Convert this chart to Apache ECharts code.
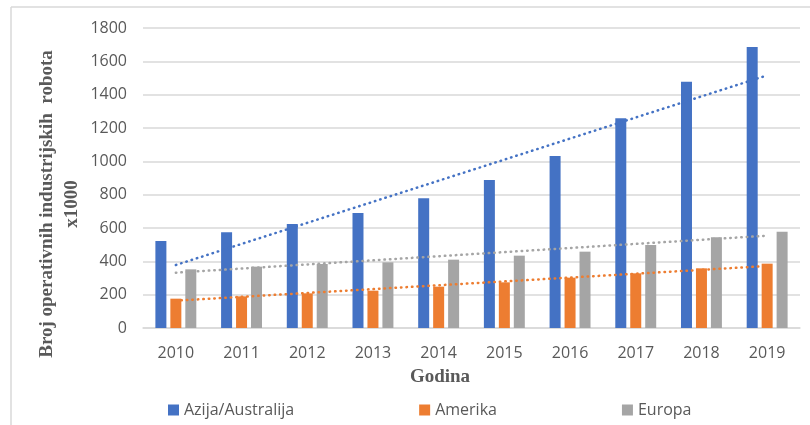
<!DOCTYPE html>
<html lang="hr">
<head>
    <meta charset="UTF-8">
    <title>Broj operativnih industrijskih robota</title>
    <style>
        html, body { margin: 0; padding: 0; background: #fff; }
        #chart { width: 810px; height: 425px; }
    </style>
    <script src="https://cdn.jsdelivr.net/npm/echarts@6/dist/echarts.min.js"></script>
</head>
<body>
    <div id="chart"></div>
    <script>
        // podaci (x1000)
        var godine = ['2010', '2011', '2012', '2013', '2014', '2015', '2016', '2017', '2018', '2019'];
        var azija = [522, 574, 624, 690, 778, 888, 1032, 1258, 1478, 1686];
        var amerika = [176, 190, 208, 224, 248, 274, 302, 328, 358, 386];
        var europa = [352, 368, 384, 394, 410, 434, 458, 498, 544, 578];

        // linije trenda, očitane krajnje točke (2010, 2019)
        var trendAzija = [378, 1516];
        var trendAmerika = [164, 372];
        var trendEuropa = [332, 554];

        var yTicks = [0, 200, 400, 600, 800, 1000, 1200, 1400, 1600, 1800];

        function trend(ends) {
            var d = godine.map(function () { return null; });
            d[0] = ends[0];
            d[d.length - 1] = ends[1];
            return d;
        }

        var boje = ['#4472C4', '#ED7D31', '#A5A5A5'];
        var labelFont = { color: '#595959', fontSize: 16, fontFamily: 'Open Sans' };

        var chart = echarts.init(document.getElementById('chart'));

        function barSeries(name, data, color) {
            return {
                name: name, type: 'bar', data: data,
                barWidth: 11, barGap: '36%',
                itemStyle: { color: color }
            };
        }

        function trendSeries(name, ends, color) {
            return {
                name: name, type: 'line', data: trend(ends),
                connectNulls: true, symbol: 'none', silent: true,
                lineStyle: { color: color, width: 2.5, type: [0.5, 5], cap: 'round' },
                z: 5
            };
        }

        chart.setOption({
            animation: false,
            grid: { left: 143, right: 10, top: 28, bottom: 97 },
            legend: {
                data: ['Azija/Australija', 'Amerika', 'Europa'],
                left: 163, top: 397,
                icon: 'rect', itemWidth: 11, itemHeight: 11, itemGap: 125,
                textStyle: labelFont
            },
            xAxis: {
                type: 'category',
                data: godine,
                axisLine: { lineStyle: { color: '#d9d9d9', width: 1.5 } },
                axisTick: { show: false },
                axisLabel: Object.assign({ margin: 17 }, labelFont)
            },
            yAxis: {
                type: 'value',
                min: yTicks[0], max: yTicks[yTicks.length - 1], interval: 200,
                axisLine: { show: false },
                axisTick: { show: false },
                axisLabel: Object.assign({ margin: 16, formatter: function (v) { return String(v); } }, labelFont),
                splitLine: { lineStyle: { color: '#d9d9d9', width: 1.5 } }
            },
            series: [
                barSeries('Azija/Australija', azija, boje[0]),
                barSeries('Amerika', amerika, boje[1]),
                barSeries('Europa', europa, boje[2]),
                trendSeries('Trend Azija', trendAzija, boje[0]),
                trendSeries('Trend Amerika', trendAmerika, boje[1]),
                trendSeries('Trend Europa', trendEuropa, boje[2])
            ],
            graphic: [
                // okvir
                { type: 'line', shape: { x1: 11, y1: 7, x2: 810, y2: 7 }, style: { stroke: '#d9d9d9', lineWidth: 1.5 } },
                { type: 'line', shape: { x1: 11, y1: 7, x2: 11, y2: 425 }, style: { stroke: '#d9d9d9', lineWidth: 1.5 } },
                {
                    type: 'text', x: 60, y: 204, rotation: Math.PI / 2,
                    style: {
                        text: 'Broj operativnih industrijskih  robota\nx1000',
                        font: 'bold 19px "Liberation Serif"', fill: '#595959',
                        align: 'center', verticalAlign: 'middle', lineHeight: 25
                    }
                },
                {
                    type: 'text', x: 440, y: 377,
                    style: {
                        text: 'Godina',
                        font: 'bold 19px "Liberation Serif"', fill: '#595959',
                        align: 'center', verticalAlign: 'middle'
                    }
                }
            ]
        });
    </script>
</body>
</html>
